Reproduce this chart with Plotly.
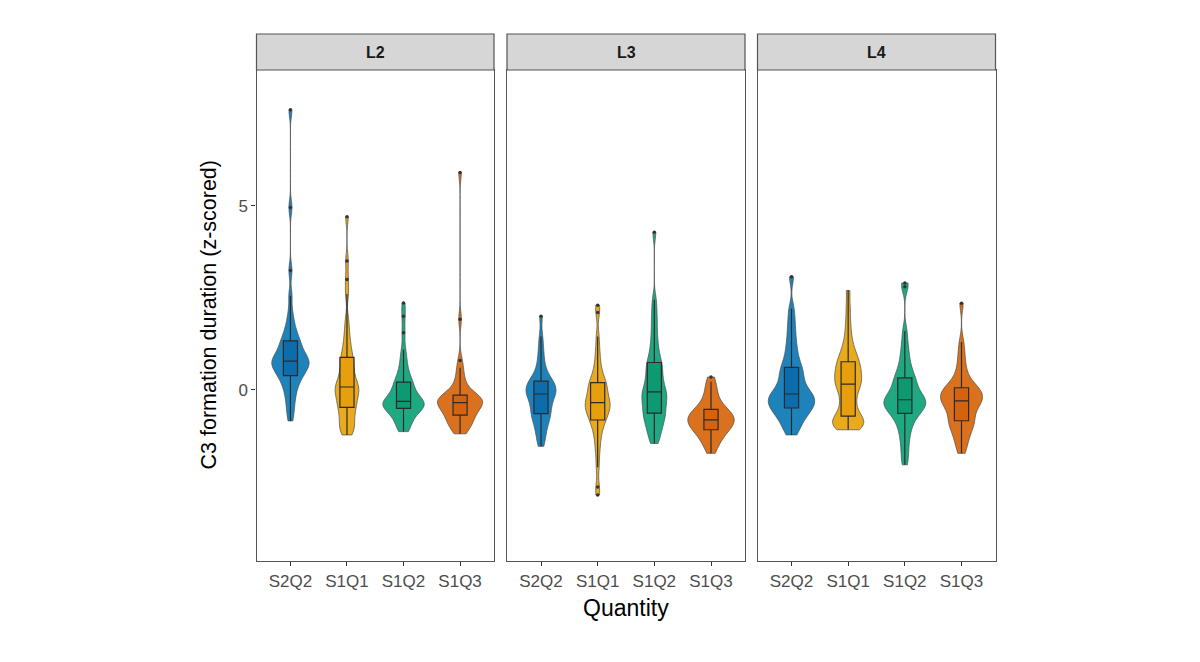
import plotly.graph_objects as go

levels = ["L2", "L3", "L4"]
quantities = ["S2Q2", "S1Q1", "S1Q2", "S1Q3"]

l2_s2q2 = [-0.84, -0.6, -0.42, -0.25, -0.1, 0.02, 0.12, 0.22, 0.3, 0.37,
           0.41, 0.46, 0.52, 0.57, 0.62, 0.66, 0.69, 0.72, 0.75, 0.77,
           0.79, 0.83, 0.88, 0.93, 0.98, 1.03, 1.1, 1.17, 1.23, 1.3,
           1.36, 1.45, 1.55, 1.68, 1.85, 2.1, 2.55, 3.24, 4.95, 7.6]
l2_s1q1 = [-1.22, -1.15, -1.08, -1.0, -0.92, -0.85, -0.75, -0.65, -0.56, -0.49,
           -0.45, -0.38, -0.3, -0.24, -0.18, -0.12, -0.06, 0.0, 0.04, 0.07,
           0.09, 0.15, 0.22, 0.3, 0.38, 0.47, 0.56, 0.65, 0.75, 0.85,
           0.92, 1.05, 1.2, 1.38, 1.6, 1.9, 2.6, 3.0, 3.5, 4.7]
l2_s1q2 = [-1.13, -1.05, -0.98, -0.9, -0.82, -0.75, -0.68, -0.61, -0.56, -0.51,
           -0.49, -0.47, -0.45, -0.43, -0.41, -0.39, -0.37, -0.35, -0.33, -0.32,
           -0.3, -0.26, -0.21, -0.16, -0.1, -0.04, 0.03, 0.09, 0.14, 0.19,
           0.24, 0.32, 0.42, 0.55, 0.7, 0.88, 1.1, 1.55, 2.0, 2.36]
l2_s1q3 = [-1.19, -1.12, -1.05, -0.98, -0.93, -0.89, -0.85, -0.8, -0.75, -0.7,
           -0.67, -0.63, -0.58, -0.54, -0.5, -0.46, -0.43, -0.4, -0.37, -0.35,
           -0.34, -0.32, -0.3, -0.28, -0.26, -0.24, -0.22, -0.2, -0.18, -0.16,
           -0.12, -0.05, 0.05, 0.15, 0.28, 0.42, 0.6, 0.8, 1.92, 5.9]

l3_s2q2 = [-1.53, -1.38, -1.25, -1.13, -1.02, -0.93, -0.85, -0.78, -0.72, -0.66,
           -0.62, -0.56, -0.5, -0.44, -0.38, -0.32, -0.26, -0.2, -0.15, -0.12,
           -0.1, -0.07, -0.04, 0.0, 0.04, 0.08, 0.12, 0.16, 0.19, 0.22,
           0.26, 0.32, 0.4, 0.5, 0.62, 0.78, 0.96, 1.18, 1.45, 2.0]
l3_s1q1 = [-2.85, -2.63, -2.1, -1.75, -1.5, -1.3, -1.15, -1.02, -0.92, -0.85,
           -0.78, -0.72, -0.66, -0.61, -0.56, -0.51, -0.47, -0.43, -0.39, -0.36,
           -0.33, -0.28, -0.23, -0.17, -0.11, -0.05, 0.02, 0.08, 0.13, 0.18,
           0.22, 0.3, 0.4, 0.52, 0.68, 0.88, 1.12, 1.45, 2.1, 2.3]
l3_s1q2 = [-1.45, -1.32, -1.2, -1.1, -1.0, -0.92, -0.84, -0.77, -0.71, -0.66,
           -0.6, -0.53, -0.46, -0.4, -0.34, -0.28, -0.22, -0.16, -0.11, -0.07,
           -0.03, 0.04, 0.12, 0.2, 0.28, 0.36, 0.45, 0.54, 0.63, 0.71,
           0.78, 0.9, 1.05, 1.22, 1.42, 1.65, 1.9, 2.15, 2.45, 4.28]
l3_s1q3 = [-1.72, -1.6, -1.5, -1.42, -1.35, -1.29, -1.23, -1.18, -1.14, -1.1,
           -1.06, -1.03, -1.0, -0.97, -0.94, -0.91, -0.88, -0.86, -0.84, -0.82,
           -0.8, -0.77, -0.74, -0.71, -0.68, -0.65, -0.62, -0.6, -0.58, -0.55,
           -0.5, -0.45, -0.38, -0.3, -0.22, -0.12, -0.02, 0.1, 0.22, 0.35]

l4_s2q2 = [-1.22, -1.1, -0.98, -0.88, -0.8, -0.73, -0.66, -0.6, -0.55, -0.51,
           -0.47, -0.43, -0.39, -0.35, -0.31, -0.27, -0.23, -0.19, -0.15, -0.12,
           -0.1, -0.04, 0.03, 0.1, 0.18, 0.26, 0.34, 0.42, 0.5, 0.58,
           0.65, 0.76, 0.9, 1.05, 1.22, 1.42, 1.65, 1.9, 2.2, 3.07]
l4_s1q1 = [-1.08, -1.05, -1.02, -0.98, -0.94, -0.9, -0.86, -0.82, -0.78, -0.74,
           -0.68, -0.58, -0.48, -0.38, -0.28, -0.18, -0.08, 0.02, 0.09, 0.14,
           0.18, 0.24, 0.3, 0.36, 0.42, 0.48, 0.54, 0.6, 0.66, 0.73,
           0.8, 0.87, 0.95, 1.05, 1.18, 1.35, 1.58, 1.88, 2.25, 2.7]
l4_s1q2 = [-2.03, -1.78, -1.55, -1.35, -1.18, -1.04, -0.92, -0.82, -0.74, -0.67,
           -0.6, -0.56, -0.52, -0.48, -0.44, -0.4, -0.36, -0.33, -0.3, -0.28,
           -0.25, -0.21, -0.16, -0.11, -0.05, 0.02, 0.09, 0.16, 0.23, 0.3,
           0.36, 0.45, 0.56, 0.7, 0.86, 1.05, 1.28, 1.6, 2.8, 2.9]
l4_s1q3 = [-1.72, -1.55, -1.42, -1.3, -1.2, -1.11, -1.03, -0.96, -0.9, -0.86,
           -0.81, -0.74, -0.67, -0.6, -0.53, -0.47, -0.42, -0.38, -0.34, -0.31,
           -0.28, -0.25, -0.21, -0.17, -0.13, -0.09, -0.05, -0.02, 0.01, 0.04,
           0.08, 0.14, 0.22, 0.32, 0.44, 0.6, 0.8, 1.02, 1.3, 2.35]

samples = {
    "L2": [l2_s2q2, l2_s1q1, l2_s1q2, l2_s1q3],
    "L3": [l3_s2q2, l3_s1q1, l3_s1q2, l3_s1q3],
    "L4": [l4_s2q2, l4_s1q1, l4_s1q2, l4_s1q3],
}

# styling
colors = {"S2Q2": "#0072B2", "S1Q1": "#E69F00", "S1Q2": "#009E73", "S1Q3": "#D55E00"}
box_fill = {"S2Q2": "rgba(0,90,160,0.55)", "S1Q1": "rgba(230,150,0,0.55)",
            "S1Q2": "rgba(0,140,100,0.55)", "S1Q3": "rgba(210,85,0,0.55)"}
violin_w = {
    "L2": [0.66, 0.42, 0.73, 0.8],
    "L3": [0.53, 0.44, 0.44, 0.82],
    "L4": [0.82, 0.55, 0.74, 0.74],
}
font = "Liberation Sans, Arial, sans-serif"

# the page body has an 8px margin, so the figure is a bit smaller than the window
W, H, OFF = 1184, 646, 8


def px(x):
    return (x - OFF) / W


def py(y):
    return (H + OFF - y) / H


x_domains = [(px(256.5), px(494)), (px(507), px(745)), (px(757.5), px(995.5))]
y_domain = (py(561), py(70))
strip_top = py(34)
border = "#555555"

fig = go.Figure()

for i, lev in enumerate(levels):
    xa = "x" if i == 0 else "x%d" % (i + 1)
    ya = "y" if i == 0 else "y%d" % (i + 1)
    for j, q in enumerate(quantities):
        vals = samples[lev][j]
        fig.add_trace(go.Violin(
            x=[q] * len(vals), y=vals, xaxis=xa, yaxis=ya,
            width=violin_w[lev][j], scalemode="width", spanmode="hard",
            bandwidth=0.2, fillcolor=colors[q], opacity=0.88,
            line=dict(color="#333333", width=0.7),
            points=False, box_visible=False, meanline_visible=False,
            showlegend=False, hoverinfo="skip"))
        fig.add_trace(go.Box(
            x=[q] * len(vals), y=vals, xaxis=xa, yaxis=ya,
            width=0.25, fillcolor=box_fill[q],
            line=dict(color="#2b2b2b", width=1.2), whiskerwidth=0,
            boxpoints="outliers", pointpos=0, jitter=0,
            marker=dict(color="#333333", size=3.5),
            showlegend=False, hoverinfo="skip"))

layout = dict(
    width=W, height=H,
    margin=dict(l=0, r=0, t=0, b=0),
    paper_bgcolor="white", plot_bgcolor="white",
    violinmode="overlay", boxmode="overlay",
    font=dict(family=font),
    shapes=[], annotations=[],
)

for i, lev in enumerate(levels):
    sfx = "" if i == 0 else str(i + 1)
    layout["xaxis" + sfx] = dict(
        domain=list(x_domains[i]), anchor="y" + sfx, type="category",
        categoryorder="array", categoryarray=quantities, range=[-0.6, 3.6],
        showline=True, mirror=True, linecolor=border, linewidth=1.2,
        ticks="outside", ticklen=4, tickcolor="#333333",
        tickfont=dict(size=17, color="#4d4d4d", family=font),
        showgrid=False, zeroline=False)
    ycfg = dict(
        domain=list(y_domain), anchor="x" + sfx, range=[-4.64, 8.68],
        showline=True, mirror=True, linecolor=border, linewidth=1.2,
        showgrid=False, zeroline=False)
    if i == 0:
        ycfg.update(tickvals=[0, 5], ticks="outside", ticklen=4, tickcolor="#333333",
                    tickfont=dict(size=17, color="#4d4d4d", family=font))
    else:
        ycfg.update(matches="y", showticklabels=False, ticks="")
    layout["yaxis" + sfx] = ycfg

    # facet strip
    layout["shapes"].append(dict(
        type="rect", xref="paper", yref="paper",
        x0=x_domains[i][0], x1=x_domains[i][1], y0=y_domain[1], y1=strip_top,
        fillcolor="#d6d6d6", line=dict(color=border, width=1.2)))
    layout["annotations"].append(dict(
        text="<b>%s</b>" % lev, xref="paper", yref="paper",
        x=(x_domains[i][0] + x_domains[i][1]) / 2, y=(y_domain[1] + strip_top) / 2,
        xanchor="center", yanchor="middle",
        showarrow=False, font=dict(size=16, color="#1a1a1a", family=font)))

layout["annotations"].append(dict(
    text="Quantity", xref="paper", yref="paper",
    x=(x_domains[0][0] + x_domains[2][1]) / 2, y=py(608),
    xanchor="center", yanchor="middle",
    showarrow=False, font=dict(size=23, color="#000000", family=font)))
layout["annotations"].append(dict(
    text="C3 formation duration (z-scored)", xref="paper", yref="paper",
    x=px(209), y=(y_domain[0] + y_domain[1]) / 2, textangle=-90,
    xanchor="center", yanchor="middle",
    showarrow=False, font=dict(size=21.5, color="#000000", family=font)))

fig.update_layout(**layout)
fig.write_html("out.html")
